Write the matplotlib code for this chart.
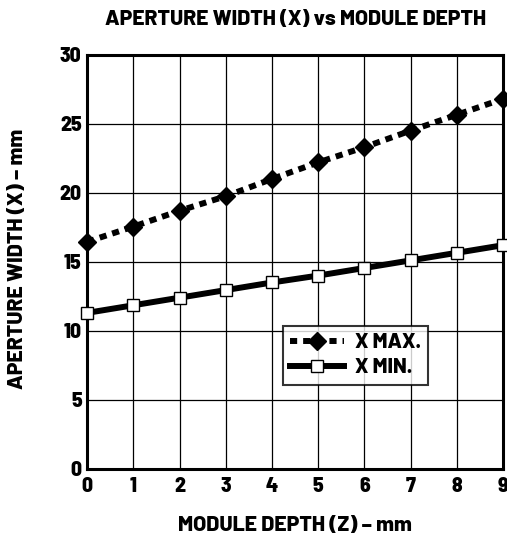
import matplotlib.pyplot as plt

depth = [0, 1, 2, 3, 4, 5, 6, 7, 8, 9]
x_max = [16.45, 17.55, 18.7, 19.75, 21.0, 22.2, 23.3, 24.5, 25.65, 26.8]
x_min = [11.3, 11.85, 12.4, 12.95, 13.5, 14.0, 14.55, 15.1, 15.65, 16.2]
yticks = [0, 5, 10, 15, 20, 25, 30]

plt.rcParams['font.family'] = ['Barlow Semi Condensed', 'DejaVu Sans']
plt.rcParams['font.stretch'] = 'semi-condensed'
plt.rcParams['font.weight'] = 800
label_font = ['Barlow', 'DejaVu Sans']

fig = plt.figure(figsize=(5.07, 5.42), dpi=100)
ax = fig.add_axes([0.172, 0.135, 0.820, 0.764])

ax.plot(depth, x_max, color='black', lw=4.3, linestyle=(0, (1.2, 1.0)),
        dash_capstyle='butt', marker='D', markersize=9.5,
        markerfacecolor='black', markeredgecolor='black', label='X MAX.',
        clip_on=False, zorder=3)
ax.plot(depth, x_min, color='black', lw=4.3, marker='s', markersize=8,
        markerfacecolor='white', markeredgecolor='black', markeredgewidth=1,
        label='X MIN.', clip_on=False, zorder=3)

ax.set_xlim(0, 9)
ax.set_ylim(0, 30)
ax.set_xticks(depth)
ax.set_yticks(yticks)
ax.grid(True, color='black', lw=0.9)
ax.tick_params(length=0, labelsize=15.5)
ax.tick_params(axis='x', pad=6)
ax.tick_params(axis='y', pad=4)
for s in ax.spines.values():
    s.set_linewidth(2.2)

ax.set_title('APERTURE WIDTH (X) vs MODULE DEPTH', fontsize=15.2, family=label_font,
             stretch='normal', fontweight=800, pad=0, y=1.0725)
ax.set_xlabel('MODULE DEPTH (Z) – mm', fontsize=15.3, family=label_font,
              stretch='normal', fontweight=800)
ax.set_ylabel('APERTURE WIDTH (X) – mm', fontsize=15.3, family=label_font,
              stretch='normal', fontweight=800)
ax.xaxis.set_label_coords(0.499, -0.1135)
ax.yaxis.set_label_coords(-0.144, 0.507)

leg = ax.legend(loc='lower right', bbox_to_anchor=(0.845, 0.178),
                prop={'family': label_font, 'stretch': 'normal', 'weight': 800, 'size': 15},
                frameon=True, fancybox=False, handlelength=2.6,
                handletextpad=0.5, borderpad=0.35, labelspacing=0.3)
leg.get_frame().set_edgecolor('black')
leg.get_frame().set_linewidth(1.5)

fig.savefig('out.png', dpi=100)
